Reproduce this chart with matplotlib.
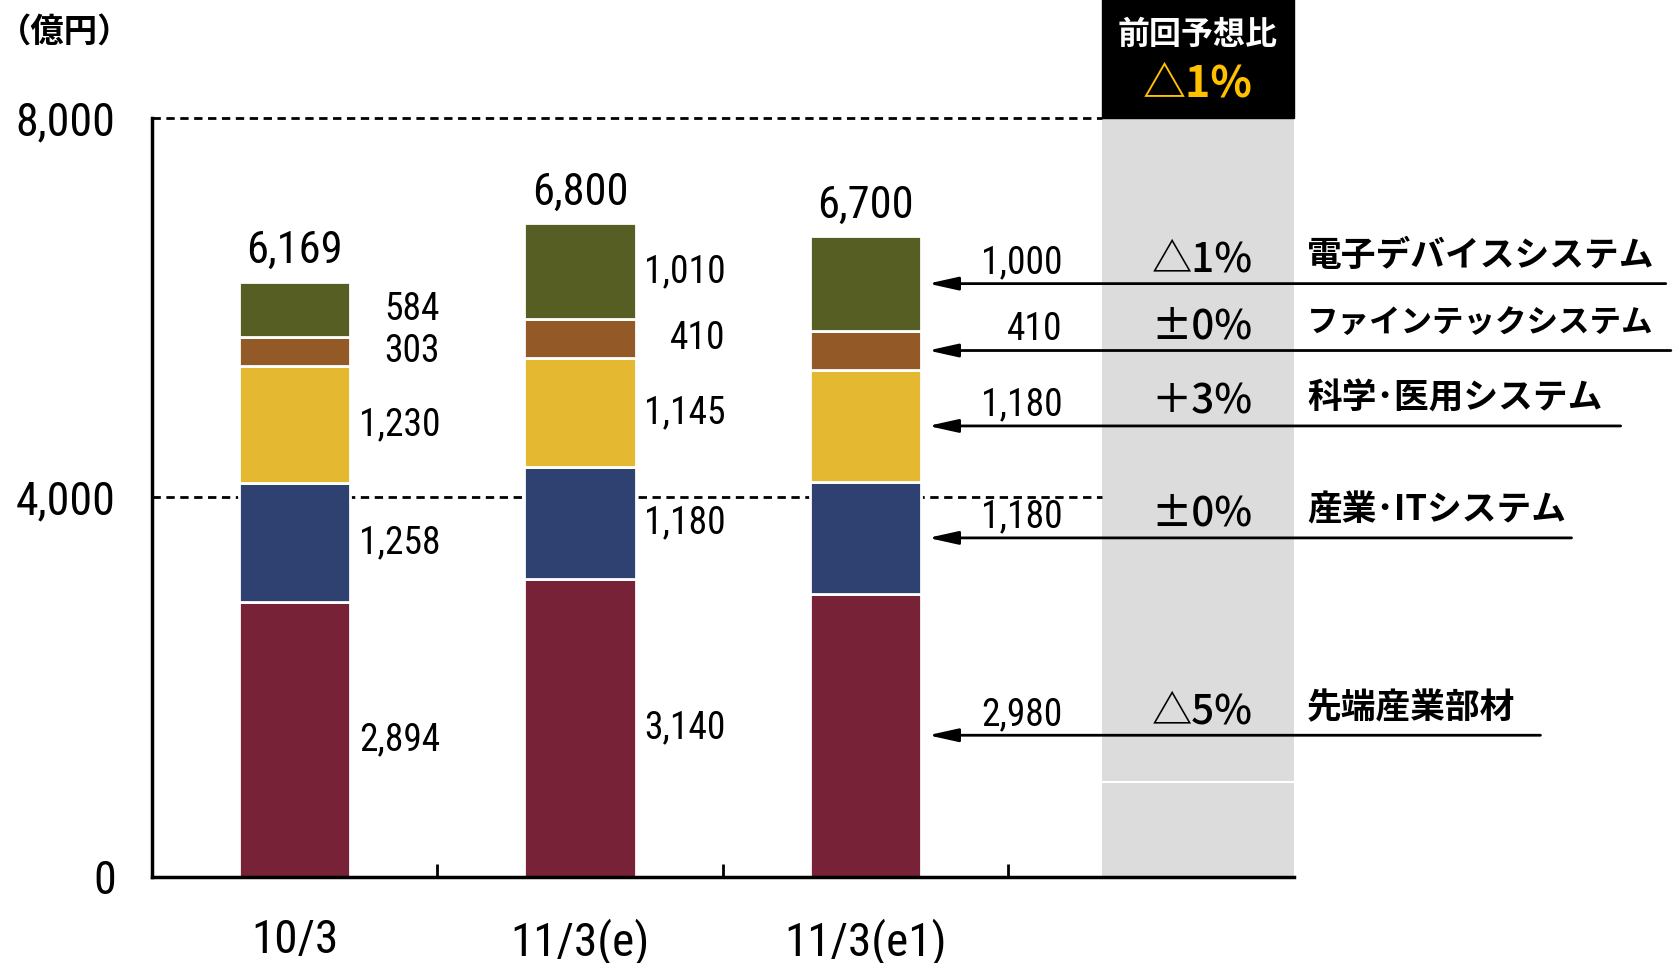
import matplotlib
matplotlib.use('Agg')
import matplotlib.pyplot as plt
import matplotlib.transforms as mtransforms
from matplotlib.patches import Rectangle
import numpy as np

# データ（億円）
periods = ['10/3', '11/3(e)', '11/3(e1)']
segments = ['先端産業部材', '産業･ITシステム', '科学･医用システム',
            'ファインテックシステム', '電子デバイスシステム']
sentan = [2894, 3140, 2980]
sangyo_it = [1258, 1180, 1180]
kagaku = [1230, 1145, 1180]
finetech = [303, 410, 410]
denshi = [584, 1010, 1000]
totals = [6169, 6800, 6700]
vs_prev = ['△5%', '±0%', '＋3%', '±0%', '△1%']
vs_prev_total = '△1%'
yticks = [0, 4000, 8000]

colors = ['#772237', '#2E4170', '#E4B830', '#935A27', '#565E24']
NUM = ['Roboto Condensed', 'IBM Plex Sans Condensed', 'DejaVu Sans']
JP = ['Noto Sans CJK JP', 'DejaVu Sans']

fig = plt.figure(figsize=(16.76, 9.63), dpi=100)
ax = fig.add_axes([0.0906, 0.0897, 0.6812, 0.7882])

stacks = [sentan, sangyo_it, kagaku, finetech, denshi]
x = np.arange(len(periods))
bw = 0.39
gx0, gx1 = 2.83, 3.5

# 前回予想比の灰色の帯
ax.axvspan(gx0, gx1, color='#DCDCDC', zorder=0.5, lw=0)
ax.hlines(1000, gx0, gx1, color='white', lw=1.5, zorder=0.6)
trans = mtransforms.blended_transform_factory(ax.transData, ax.transAxes)
ax.add_patch(Rectangle((gx0, 1), gx1 - gx0, 0.2, transform=trans,
                       color='black', clip_on=False, zorder=5))
ax.text((gx0 + gx1) / 2, 1.109, '前回予想比', transform=trans, ha='center', va='center',
        color='white', fontsize=23, fontweight='bold', family=JP, zorder=6)
ax.text((gx0 + gx1) / 2, 1.045, vs_prev_total, transform=trans, ha='center', va='center',
        color='#FFC000', fontsize=31, fontweight='bold', family=JP, zorder=6)

# 破線
ax.hlines([4000, 8000], -0.5, gx0, colors='black', linestyles=(0, (3, 2)), lw=2,
          zorder=1, clip_on=False)

# 積み上げ棒
bottom = np.zeros(len(periods))
line_end = [4.365, 4.474, 4.646, 4.822, 4.804]
for k, (vals, col) in enumerate(zip(stacks, colors)):
    vals = np.array(vals)
    ax.bar(x, vals, width=bw, bottom=bottom, color=col, edgecolor='white',
           linewidth=2, zorder=3)
    mids = bottom + vals / 2
    for i in range(2):
        ax.text(x[i] + 0.51, mids[i], f'{vals[i]:,}', ha='right', va='center',
                fontsize=27, family=NUM)
    # 最新予想は矢印付き
    y = mids[2]
    ax.annotate('', xy=(2.22, y), xytext=(line_end[k], y),
                arrowprops=dict(arrowstyle='-|>,head_length=0.9,head_width=0.2',
                                color='black', lw=2, shrinkA=0, shrinkB=0,
                                mutation_scale=20),
                annotation_clip=False, zorder=4)
    ax.annotate(f'{vals[2]:,}', (2.69, y), xytext=(0, 15), textcoords='offset points',
                ha='right', va='center', fontsize=27, family=NUM, annotation_clip=False)
    ax.annotate(vs_prev[k], (3.18, y), xytext=(0, 17), textcoords='offset points',
                ha='center', va='center', fontsize=29, fontweight='medium', family=JP,
                annotation_clip=False)
    name_size = min(25, 25 * 10 / len(segments[k]))
    ax.annotate(segments[k], (3.547, y), xytext=(0, 20), textcoords='offset points',
                ha='left', va='center', fontsize=name_size, fontweight='bold', family=JP,
                annotation_clip=False)
    bottom = bottom + vals

for i, t in enumerate(totals):
    ax.annotate(f'{t:,}', (x[i], bottom[i]), xytext=(0, 7), textcoords='offset points',
                ha='center', va='bottom', fontsize=32, family=NUM)

ax.set_xlim(-0.5, 3.5)
ax.set_ylim(0, 8000)
ax.set_yticks(yticks)
ax.set_yticklabels([f'{v:,}' for v in yticks], fontsize=33, family=NUM)
ax.set_xticks(x)
ax.set_xticklabels(periods, fontsize=34, family=NUM)
ax.set_xticks([0.5, 1.5, 2.5], minor=True)
ax.tick_params(axis='y', length=0, pad=26)
ax.tick_params(axis='x', which='major', length=0, pad=30)
ax.tick_params(axis='x', which='minor', direction='in', length=9.5, width=2)
for s in ['top', 'right']:
    ax.spines[s].set_visible(False)
for s in ['left', 'bottom']:
    ax.spines[s].set_linewidth(2.5)
    ax.spines[s].set_zorder(4)

fig.text(65 / 1676, 1 - 32 / 963, '（億円）', ha='center', va='center', fontsize=24,
         fontweight='bold', family=JP)

fig.savefig('out.png', dpi=100)
